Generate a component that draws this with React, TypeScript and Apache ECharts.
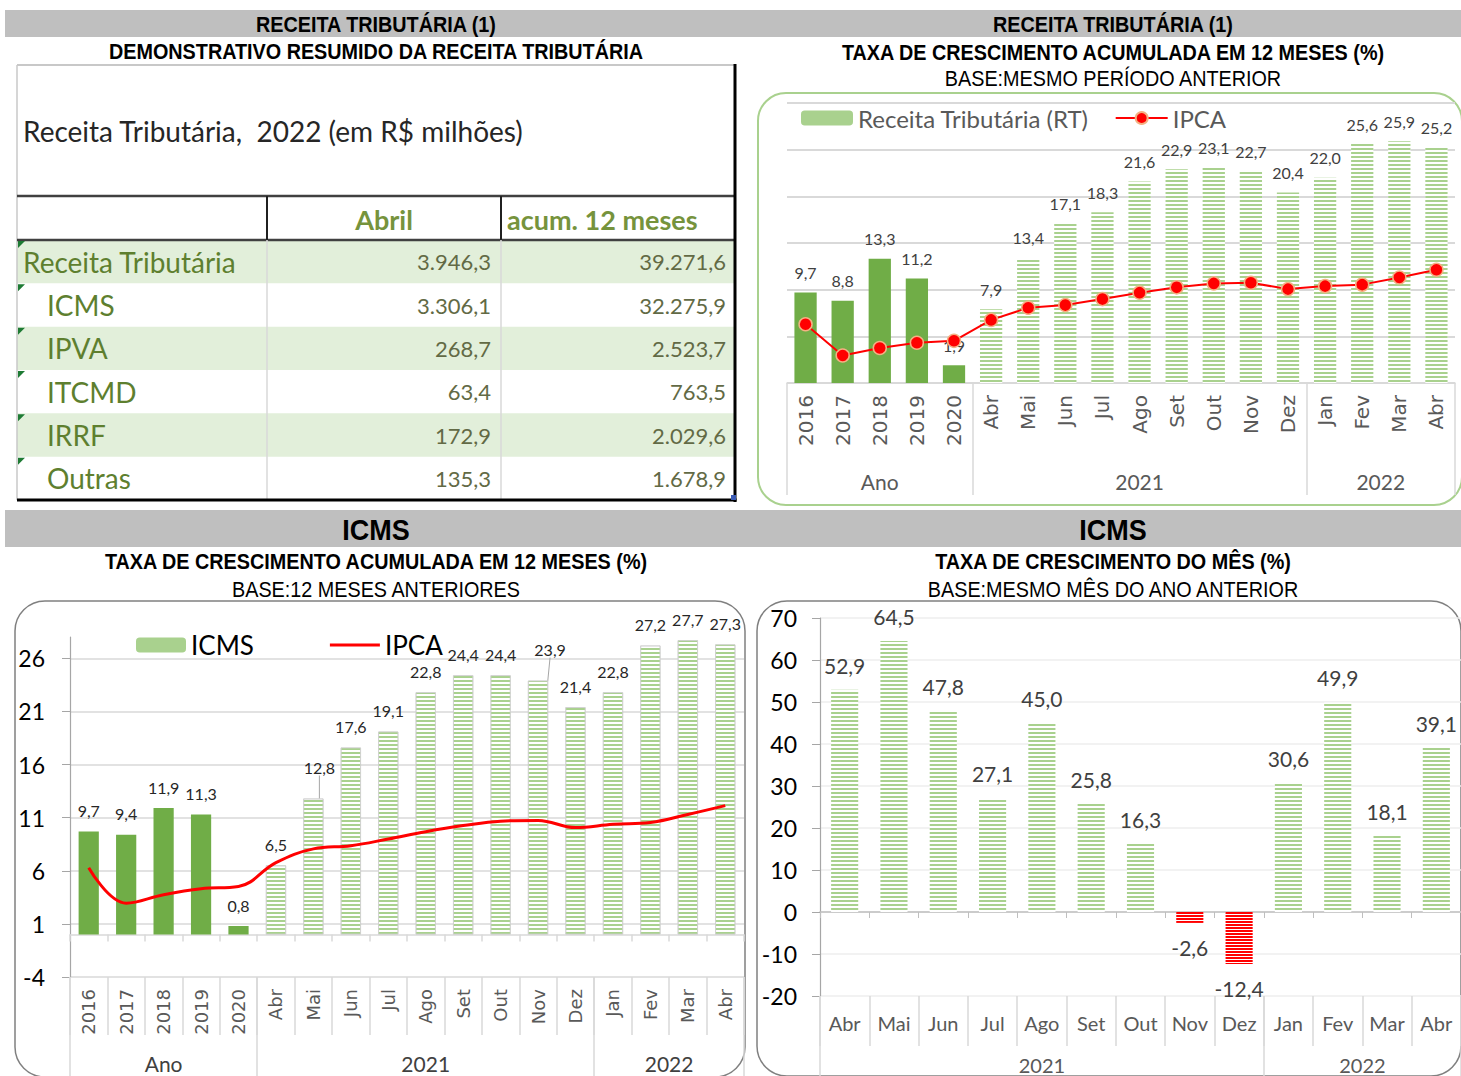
import React, { useEffect, useRef } from 'react';
import * as echarts from 'echarts';

// ---------- data ----------
const yearCats = ['2016', '2017', '2018', '2019', '2020'];
const months2021 = ['Abr', 'Mai', 'Jun', 'Jul', 'Ago', 'Set', 'Out', 'Nov', 'Dez'];
const months2022 = ['Jan', 'Fev', 'Mar', 'Abr'];

const rtValues = [9.7, 8.8, 13.3, 11.2, 1.9, 7.9, 13.4, 17.1, 18.3, 21.6, 22.9, 23.1, 22.7, 20.4, 22.0, 25.6, 25.9, 25.2];
const ipcaValues = [6.29, 2.95, 3.75, 4.31, 4.52, 6.76, 8.06, 8.35, 8.99, 9.68, 10.25, 10.67, 10.74, 10.06, 10.38, 10.54, 11.3, 12.13];
const icmsAcumValues = [9.7, 9.4, 11.9, 11.3, 0.8, 6.5, 12.8, 17.6, 19.1, 22.8, 24.4, 24.4, 23.9, 21.4, 22.8, 27.2, 27.7, 27.3];
const icmsMesValues = [52.9, 64.5, 47.8, 27.1, 45.0, 25.8, 16.3, -2.6, -12.4, 30.6, 49.9, 18.1, 39.1];

const tableTitle = 'Receita Tributária,  2022 (em R$ milhões)';
const tableHeaders = ['Abril', 'acum. 12 meses'];
const tableRows = ['Receita Tributária', 'ICMS', 'IPVA', 'ITCMD', 'IRRF', 'Outras'];
const tableAbril = ['3.946,3', '3.306,1', '268,7', '63,4', '172,9', '135,3'];
const tableAcum = ['39.271,6', '32.275,9', '2.523,7', '763,5', '2.029,6', '1.678,9'];

// ---------- helpers ----------
const CAL = 'Lato, "Noto Sans", sans-serif';
const VERD = '"DejaVu Sans", Verdana, sans-serif';
const ARIAL = '"Liberation Sans", Arial, sans-serif';
const fmt = (v: number) => v.toFixed(1).replace('.', ',');

type Group = { name: string; start: number; end: number };
function makeGroups(parts: [string, string[]][]): { keys: string[]; groups: Group[] } {
  const keys: string[] = [];
  const groups: Group[] = [];
  parts.forEach(([name, items]) => {
    const start = keys.length;
    items.forEach((it) => keys.push(name + '|' + it));
    groups.push({ name, start, end: keys.length - 1 });
  });
  return { keys, groups };
}
const longAxis = makeGroups([['Ano', yearCats], ['2021', months2021], ['2022', months2022]]);
const monthAxis = makeGroups([['2021', months2021], ['2022', months2022]]);
const lab = (v: string) => v.split('|')[1];
const startsOf = (gs: Group[]) => gs.map((g) => g.start);

const stripe = (color: string, dash: number[]) => ({
  symbol: 'rect',
  symbolSize: 1,
  dashArrayX: [1, 0],
  dashArrayY: dash,
  rotation: 0,
  color,
});

function buildGraphics(extra: any[]) {
  const g: any[] = [];
  g.push({ type: 'rect', shape: { x: 5, y: 10, width: 1456, height: 27 }, style: { fill: '#bfbfbf' }, silent: true });
  g.push({ type: 'rect', shape: { x: 5, y: 510, width: 1456, height: 37 }, style: { fill: '#bfbfbf' }, silent: true });
  const hdr = (text: string, cx: number, cy: number, size: number, bold: boolean) => ({
    type: 'text', x: cx, y: cy, scaleX: 0.9, silent: true,
    style: { text, font: `${bold ? 'bold ' : ''}${size}px ${ARIAL}`, fill: '#000', align: 'center', verticalAlign: 'middle' },
  });
  g.push(hdr('RECEITA TRIBUTÁRIA (1)', 376, 24, 22, true));
  g.push(hdr('RECEITA TRIBUTÁRIA (1)', 1113, 24, 22, true));
  g.push(hdr('DEMONSTRATIVO RESUMIDO DA RECEITA TRIBUTÁRIA', 376, 51, 22, true));
  g.push(hdr('TAXA DE CRESCIMENTO ACUMULADA EM 12 MESES (%)', 1113, 52, 22, true));
  g.push(hdr('BASE:MESMO PERÍODO ANTERIOR', 1113, 78, 22, false));
  g.push(hdr('ICMS', 376, 529, 30, true));
  g.push(hdr('ICMS', 1113, 529, 30, true));
  g.push(hdr('TAXA DE CRESCIMENTO ACUMULADA EM 12 MESES (%)', 376, 561, 22, true));
  g.push(hdr('BASE:12 MESES ANTERIORES', 376, 589, 22, false));
  g.push(hdr('TAXA DE CRESCIMENTO DO MÊS (%)', 1113, 561, 22, true));
  g.push(hdr('BASE:MESMO MÊS DO ANO ANTERIOR', 1113, 589, 22, false));

  // panels
  g.push({ type: 'rect', shape: { x: 758, y: 93, width: 704, height: 412, r: 28 }, style: { fill: 'none', stroke: '#a9d18e', lineWidth: 2 }, silent: true });
  g.push({ type: 'rect', shape: { x: 15, y: 601, width: 730, height: 476, r: 30 }, style: { fill: 'none', stroke: '#808080', lineWidth: 1.5 }, silent: true });
  g.push({ type: 'rect', shape: { x: 757, y: 601, width: 704, height: 475, r: 30 }, style: { fill: 'none', stroke: '#808080', lineWidth: 1.5 }, silent: true });

  // table
  const L = 17, R = 735, T = 65, H1 = 196, B0 = 240, BOT = 500, C1 = 267, C2 = 501;
  const rowH = (BOT - B0) / tableRows.length;
  tableRows.forEach((_, i) => {
    if (i % 2 === 0) {
      g.push({ type: 'rect', shape: { x: L, y: B0 + i * rowH, width: R - L, height: rowH }, style: { fill: '#e2efda' }, silent: true });
    }
  });
  const line = (x1: number, y1: number, x2: number, y2: number, stroke: string, w: number) => ({
    type: 'line', shape: { x1, y1, x2, y2 }, style: { stroke, lineWidth: w }, silent: true,
  });
  g.push(line(L, T, R, T, '#c8c8c8', 2));
  g.push(line(L, T, L, BOT, '#c8c8c8', 1.5));
  g.push(line(L, H1, R, H1, '#404040', 2.5));
  g.push(line(L, B0, R, B0, '#404040', 2.5));
  g.push(line(C1, H1, C1, B0, '#202020', 2));
  g.push(line(C2, H1, C2, B0, '#202020', 2));
  g.push(line(C1, B0, C1, BOT, '#d9d9d9', 1.5));
  g.push(line(C2, B0, C2, BOT, '#d9d9d9', 1.5));
  g.push(line(R, T - 1, R, BOT + 2, '#000', 3));
  g.push(line(L, BOT, R + 1.5, BOT, '#000', 3));
  g.push({ type: 'rect', shape: { x: 731, y: 495, width: 5, height: 5 }, style: { fill: '#3b5bb5' }, silent: true });

  g.push({ type: 'text', x: 23, y: 131, silent: true, style: { text: tableTitle, font: `28px ${CAL}`, fill: '#262626', align: 'left', verticalAlign: 'middle' } });
  g.push({ type: 'text', x: (C1 + C2) / 2, y: 219, silent: true, style: { text: tableHeaders[0], font: `bold 27px ${CAL}`, fill: '#76933c', align: 'center', verticalAlign: 'middle' } });
  g.push({ type: 'text', x: C2 + 6, y: 219, silent: true, style: { text: tableHeaders[1], font: `bold 27px ${CAL}`, fill: '#76933c', align: 'left', verticalAlign: 'middle' } });
  tableRows.forEach((name, i) => {
    const top = B0 + i * rowH;
    const cy = top + rowH / 2;
    g.push({ type: 'polygon', shape: { points: [[L + 1, top + 1], [L + 8, top + 1], [L + 1, top + 8]] }, style: { fill: '#1e7b34' }, silent: true });
    g.push({ type: 'text', x: i === 0 ? 23 : 47, y: cy, silent: true, style: { text: name, font: `28px ${CAL}`, fill: '#5e7f2f', align: 'left', verticalAlign: 'middle' } });
    g.push({ type: 'text', x: C2 - 10, y: cy, silent: true, style: { text: tableAbril[i], font: `22px ${CAL}`, fill: '#626a45', align: 'right', verticalAlign: 'middle' } });
    g.push({ type: 'text', x: R - 9, y: cy, silent: true, style: { text: tableAcum[i], font: `22px ${CAL}`, fill: '#626a45', align: 'right', verticalAlign: 'middle' } });
  });
  return g.concat(extra);
}

function buildOption(extra: any[]) {
  const longStarts = startsOf(longAxis.groups);
  const monthStarts = startsOf(monthAxis.groups);
  const lightLine = { color: '#d9d9d9', width: 1.5 };
  const lineIcon = 'path://M0 0H52V3H0Z';

  return {
    animation: false,
    backgroundColor: '#ffffff',
    textStyle: { fontFamily: CAL },
    legend: [
      {
        left: 796, top: 101, itemWidth: 52, itemHeight: 15, itemGap: 26,
        data: ['Receita Tributária (RT)', 'IPCA (RT)'],
        formatter: (n: string) => (n.startsWith('IPCA') ? 'IPCA' : n),
        textStyle: { fontFamily: CAL, fontSize: 24, color: '#595959' },
        selectedMode: false,
      },
      {
        left: 131, top: 627, itemWidth: 50, itemHeight: 15, itemGap: 76,
        data: ['ICMS', { name: 'IPCA (ICMS)', icon: lineIcon }],
        formatter: (n: string) => (n.startsWith('IPCA') ? 'IPCA' : n),
        textStyle: { fontFamily: CAL, fontSize: 26, color: '#000' },
        selectedMode: false,
      },
    ],
    grid: [
      { left: 787, top: 103, width: 668, height: 280 },
      { left: 70, top: 637, width: 674, height: 340 },
      { left: 820, top: 618, width: 642, height: 378 },
    ],
    xAxis: [
      {
        type: 'category', gridIndex: 0, position: 'bottom', data: longAxis.keys,
        axisLine: { show: true, lineStyle: lightLine },
        axisTick: { show: true, interval: (i: number) => longStarts.includes(i), length: 112, lineStyle: lightLine },
        axisLabel: { interval: 0, rotate: 90, margin: 12, formatter: lab, fontFamily: VERD, fontSize: 20, color: '#595959' },
      },
      {
        type: 'category', gridIndex: 1, position: 'bottom', data: longAxis.keys,
        axisLine: { show: true, onZero: true, lineStyle: lightLine },
        axisTick: { show: true, interval: 0, length: 7, lineStyle: lightLine },
        axisLabel: { show: false },
      },
      {
        type: 'category', gridIndex: 1, position: 'bottom', data: longAxis.keys,
        axisLine: { show: false, onZero: false },
        axisTick: { show: true, interval: 0, length: 58, lineStyle: lightLine },
        axisLabel: { interval: 0, rotate: 90, margin: 12, formatter: lab, fontFamily: VERD, fontSize: 18, color: '#595959' },
      },
      {
        type: 'category', gridIndex: 1, position: 'bottom', data: longAxis.keys,
        axisLine: { show: false, onZero: false },
        axisTick: { show: true, interval: (i: number) => longStarts.includes(i), length: 100, lineStyle: lightLine },
        axisLabel: { show: false },
      },
      {
        type: 'category', gridIndex: 2, position: 'bottom', data: monthAxis.keys,
        axisLine: { show: true, onZero: true, lineStyle: { color: '#bfbfbf', width: 1.5 } },
        axisTick: { show: true, interval: 0, length: 6, lineStyle: { color: '#bfbfbf' } },
        axisLabel: { show: false },
      },
      {
        type: 'category', gridIndex: 2, position: 'bottom', data: monthAxis.keys,
        axisLine: { show: false, onZero: false },
        axisTick: { show: true, interval: 0, length: 50, lineStyle: lightLine },
        axisLabel: { interval: 0, margin: 17, formatter: lab, fontFamily: CAL, fontSize: 20, color: '#595959' },
      },
      {
        type: 'category', gridIndex: 2, position: 'bottom', data: monthAxis.keys,
        axisLine: { show: false, onZero: false },
        axisTick: { show: true, interval: (i: number) => monthStarts.includes(i), length: 82, lineStyle: lightLine },
        axisLabel: { show: false },
      },
    ],
    yAxis: [
      {
        type: 'value', gridIndex: 0, min: 0, max: 30, interval: 5,
        axisLine: { show: false }, axisTick: { show: false }, axisLabel: { show: false },
        splitLine: { show: true, lineStyle: { color: '#d9d9d9', width: 2 } },
      },
      {
        type: 'value', gridIndex: 1, min: -4, max: 28, interval: 5,
        axisLine: { show: true, lineStyle: { color: '#a6a6a6', width: 1.2 } },
        axisTick: { show: true, length: 8, lineStyle: { color: '#a6a6a6' } },
        axisLabel: { showMaxLabel: false, margin: 25, fontFamily: CAL, fontSize: 23, color: '#000' },
        splitLine: { show: true, showMaxLine: false, lineStyle: { color: '#d9d9d9', width: 1.5 } },
      },
      {
        type: 'value', gridIndex: 2, min: -20, max: 70, interval: 10,
        axisLine: { show: true, lineStyle: { color: '#a6a6a6', width: 1.2 } },
        axisTick: { show: true, length: 8, lineStyle: { color: '#a6a6a6' } },
        axisLabel: { margin: 23, fontFamily: CAL, fontSize: 23, color: '#000' },
        splitLine: { show: true, lineStyle: { color: '#eeeeee', width: 1.5 } },
      },
    ],
    series: [
      {
        type: 'bar', name: 'Receita Tributária (RT)', xAxisIndex: 0, yAxisIndex: 0, barWidth: '60%',
        itemStyle: { color: '#a9d18e' },
        data: rtValues.map((v, i) => ({
          value: v,
          itemStyle: i < yearCats.length ? { color: '#70ad47' } : { color: '#ffffff', decal: stripe('#a9d18e', [2, 2]) },
        })),
        label: { show: true, position: 'top', distance: 12, formatter: (p: any) => fmt(p.value), fontFamily: CAL, fontSize: 16, color: '#404040' },
      },
      {
        type: 'line', name: 'IPCA (RT)', xAxisIndex: 0, yAxisIndex: 0, data: ipcaValues,
        color: '#ff0000', symbol: 'circle', symbolSize: 13, z: 5,
        lineStyle: { color: '#ff0000', width: 2 },
        itemStyle: { color: '#ff0000', borderColor: '#f4b183', borderWidth: 1.5 },
      },
      {
        type: 'bar', name: 'ICMS', xAxisIndex: 1, yAxisIndex: 1, barWidth: '54%',
        itemStyle: { color: '#a9d18e' },
        data: icmsAcumValues.map((v, i) => ({
          value: v,
          itemStyle: i < yearCats.length ? { color: '#70ad47' } : { color: '#ffffff', borderColor: '#d0d0d0', borderWidth: 0.8, decal: stripe('#a9d18e', [2, 2]) },
          labelLine: { show: i === 6 || i === 12, lineStyle: { color: '#a6a6a6', width: 1 } },
        })),
        labelLayout: (p: any) => (p.dataIndex === 6 ? { dx: 6, dy: -10 } : p.dataIndex === 12 ? { dx: 12, dy: -10 } : {}),
        labelLine: { show: false },
        label: { show: true, position: 'top', distance: 13, formatter: (p: any) => fmt(p.value), fontFamily: CAL, fontSize: 16, color: '#262626' },
      },
      {
        type: 'line', name: 'IPCA (ICMS)', xAxisIndex: 1, yAxisIndex: 1, data: ipcaValues,
        color: '#ff0000', symbol: 'none', smooth: 0.4, z: 5,
        lineStyle: { color: '#ff0000', width: 3 },
      },
      {
        type: 'bar', name: 'ICMS mês', xAxisIndex: 4, yAxisIndex: 2, barWidth: '55%',
        itemStyle: { color: '#a9d18e' },
        data: icmsMesValues.map((v) => ({
          value: v,
          itemStyle: v < 0 ? { color: '#ffffff', decal: stripe('#ff0000', [2, 1]) } : { color: '#ffffff', decal: stripe('#a9d18e', [2, 2]) },
          label: v < 0 ? { position: 'bottom' } : {},
        })),
        label: { show: true, position: 'top', distance: 14, formatter: (p: any) => fmt(p.value), fontFamily: CAL, fontSize: 21, color: '#404040' },
      },
    ],
    graphic: { elements: buildGraphics(extra) },
  };
}

export default function App() {
  const ref = useRef<HTMLDivElement>(null);
  useEffect(() => {
    const chart = echarts.init(ref.current!, null, { renderer: 'svg' });
    chart.setOption(buildOption([]) as any);
    const extra: any[] = [];
    const addGroups = (axisIdx: number, groups: Group[], y: number, size: number, color: string) => {
      groups.forEach((g) => {
        const a = chart.convertToPixel({ xAxisIndex: axisIdx } as any, g.start) as unknown as number;
        const b = chart.convertToPixel({ xAxisIndex: axisIdx } as any, g.end) as unknown as number;
        extra.push({
          type: 'text', x: (a + b) / 2, y, silent: true,
          style: { text: g.name, font: `${size}px ${CAL}`, fill: color, align: 'center', verticalAlign: 'middle' },
        });
      });
    };
    addGroups(0, longAxis.groups, 481, 21, '#595959');
    addGroups(2, longAxis.groups, 1063, 21, '#404040');
    addGroups(5, monthAxis.groups, 1065, 20, '#595959');
    chart.setOption(buildOption(extra) as any, { notMerge: true });
    return () => chart.dispose();
  }, []);
  return (
    <div
      ref={ref}
      style={{ position: 'fixed', left: 0, top: 0, width: 1461, height: 1076, background: '#fff' }}
    />
  );
}
